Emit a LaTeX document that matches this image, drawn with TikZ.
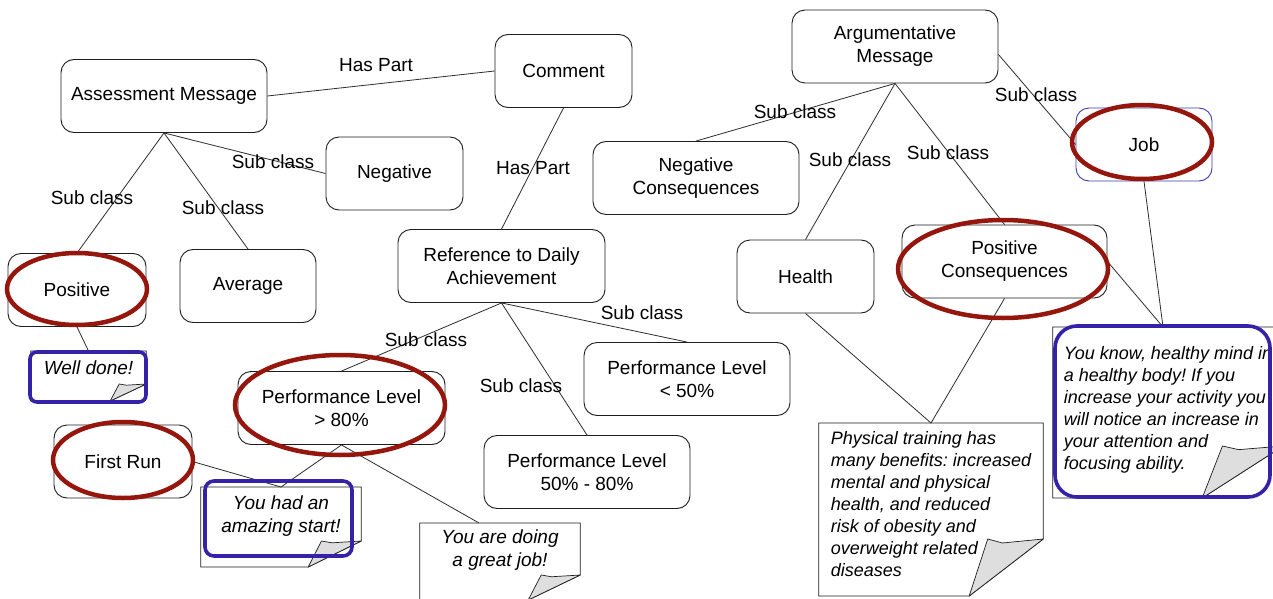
\documentclass[tikz,border=0pt]{standalone}
\usepackage{fontspec}
\setmainfont{Liberation Sans}
\usetikzlibrary{calc}
\frenchspacing
\definecolor{ink}{RGB}{30,30,30}
\definecolor{linec}{RGB}{45,45,45}
\definecolor{redmark}{RGB}{148,22,12}
\definecolor{bluemark}{RGB}{52,34,168}
\definecolor{jobblue}{RGB}{60,60,170}
\definecolor{flapgray}{RGB}{222,222,222}
\tikzset{
  boxfont/.style={font=\fontsize{19}{23}\selectfont},
  box/.style={draw=ink, line width=0.9pt, rounded corners=13pt, align=center, inner sep=2pt, minimum height=73pt, minimum width=#1, boxfont},
  box/.default=206pt,
  lbl/.style={inner sep=0pt, boxfont},
  conn/.style={draw=linec, line width=0.8pt},
  note/.style={anchor=north, inner xsep=0pt, align=center, font=\fontsize{19}{22.5}\selectfont\itshape},
  longnote/.style={anchor=north, inner xsep=0pt, align=left, font=\fontsize{18}{22}\selectfont\itshape},
  noteline/.style={draw=ink, line width=0.8pt},
  flap/.style={draw=ink, line width=0.7pt, fill=flapgray, line join=round},
  redring/.style={draw=redmark, line width=4.5pt},
  bluering/.style={draw=bluemark, line width=3.6pt},
}
\newcommand{\foldnote}[4]{%
  \draw[noteline] (#1.north west) -- (#1.north east)
    -- ([yshift=-#2+#4]#1.north east)
    -- ([xshift=-#3,yshift=-#2]#1.north east)
    -- ([yshift=-#2]#1.north west) -- cycle;
  \draw[flap] ([xshift=-#3,yshift=-#2]#1.north east)
    -- ++(0.25*#3,#4) -- ++(0.2*#3,-0.07*#4)
    -- ([yshift=-#2+#4]#1.north east) -- cycle;
}
\begin{document}
\begin{tikzpicture}[x=1pt,y=-1pt]
\fill[white, use as bounding box] (0,0) rectangle (1273,599);

% concept boxes
\node[box] (am) at (164,96) {Assessment Message};
\node[box=137pt] (cm) at (563.5,71) {Comment};
\node[box=137pt] (neg) at (394.5,173.5) {Negative};
\node[box=138pt] (pos) at (77,290) {Positive};
\node[box=136pt] (avg) at (248,286) {Average};
\node[box=207pt] (ref) at (501.5,266) {Reference to Daily\\Achievement};
\node[box=207pt] (p80) at (341.5,408) {Performance Level\\> 80\%};
\node[box] (p50) at (687,379) {Performance Level\\< 50\%};
\node[box] (p58) at (587,472) {Performance Level\\50\% - 80\%};
\node[box=138pt] (fr) at (123,461.5) {First Run};
\node[box] (arg) at (895,46.5) {Argumentative\\Message};
\node[box] (negc) at (696,178) {Negative\\Consequences};
\node[box=137pt] (hl) at (805.5,276.5) {Health};
\node[box=205pt] (posc) at (1004.5,261.5) {Positive\\Consequences};
\node[box=136pt, draw=jobblue] (job) at (1144,144.5) {Job};

% notes
\node[note, minimum width=115pt, inner ysep=10pt] (wd) at (88.5,351) {Well done!};
\node[note, minimum width=160pt, inner ysep=9pt] (amz) at (281,487) {You had an\\amazing start!};
\node[note, minimum width=160pt, inner ysep=7pt] (gj) at (500,523) {You are doing\\a great job!};
\node[longnote, minimum width=224pt, inner ysep=8.5pt] (pt) at (931,423)
  {Physical training has\\many benefits: increased\\mental and physical\\health, and reduced\\risk of obesity and\\overweight related\\diseases};
\node[longnote, minimum width=230pt, inner ysep=19.5pt] (yk) at (1168,327)
  {You know, healthy mind in\\a healthy body! If you\\increase your activity you\\will notice an increase in\\your attention and\\focusing ability.};
\foldnote{wd}{50pt}{36pt}{17pt}
\foldnote{amz}{80pt}{53pt}{26pt}
\foldnote{gj}{77pt}{52pt}{25pt}
\foldnote{pt}{173pt}{74pt}{57pt}
\foldnote{yk}{171pt}{81pt}{52pt}

% connectors
\draw[conn] (am.east) -- (cm.west);
\draw[conn] (cm.south) -- (ref.north);
\draw[conn] (am.south) -- (pos.north);
\draw[conn] (am.south) -- (avg.north);
\draw[conn] (am.south) -- (neg.west);
\draw[conn] (pos.south) -- (wd.north);
\draw[conn] (ref.south) -- (p80.north);
\draw[conn] (ref.south) -- (p58.north);
\draw[conn] (ref.south) -- (p50.north);
\draw[conn] (p80.south) -- (amz.north);
\draw[conn] (fr.east) -- (amz.north);
\draw[conn] (p80.south) -- ([xshift=-21pt]gj.north);
\draw[conn] (arg.south) -- (negc.north);
\draw[conn] (arg.south) -- (hl.north);
\draw[conn] (arg.south) -- (posc.north);
\draw[conn] ([yshift=-8pt]arg.east) -- (job.west);
\draw[conn] (job.south) -- ([xshift=-5pt]yk.north);
\draw[conn] (posc.east) -- ([xshift=-5pt]yk.north);
\draw[conn] (hl.south) -- (pt.north);
\draw[conn] (posc.south) -- (pt.north);

% connector labels
\node[lbl] (l1) at (376,65) {Has Part};
\node[lbl] (l2) at (533,168) {Has Part};
\node[lbl] (l3) at (92,198) {Sub class};
\node[lbl] (l4) at (223,208) {Sub class};
\node[lbl] (l5) at (273,162) {Sub class};
\node[lbl] (l6) at (426,340) {Sub class};
\node[lbl] (l7) at (521,386) {Sub class};
\node[lbl] (l8) at (642,313) {Sub class};
\node[lbl] (l9) at (795,112) {Sub class};
\node[lbl] (l10) at (850,160) {Sub class};
\node[lbl] (l11) at (948,153) {Sub class};
\node[lbl] (l12) at (1036,95) {Sub class};

% highlight marks
\draw[bluering, rounded corners=7pt] (30,352) rectangle (146,402);
\draw[bluering, rounded corners=9pt] (205,481) rectangle (352,556);
\draw[bluering, rounded corners=22pt] (1055,326) rectangle (1270,497);
\draw[redring] (77,289) ellipse [x radius=70pt, y radius=36pt];
\draw[redring] (123,460) ellipse [x radius=70pt, y radius=38pt];
\draw[redring] (340,405) ellipse [x radius=105pt, y radius=50pt];
\draw[redring] (1003,269) ellipse [x radius=105pt, y radius=49pt];
\draw[redring] (1142,142) ellipse [x radius=70pt, y radius=37pt];
\end{tikzpicture}
\end{document}
